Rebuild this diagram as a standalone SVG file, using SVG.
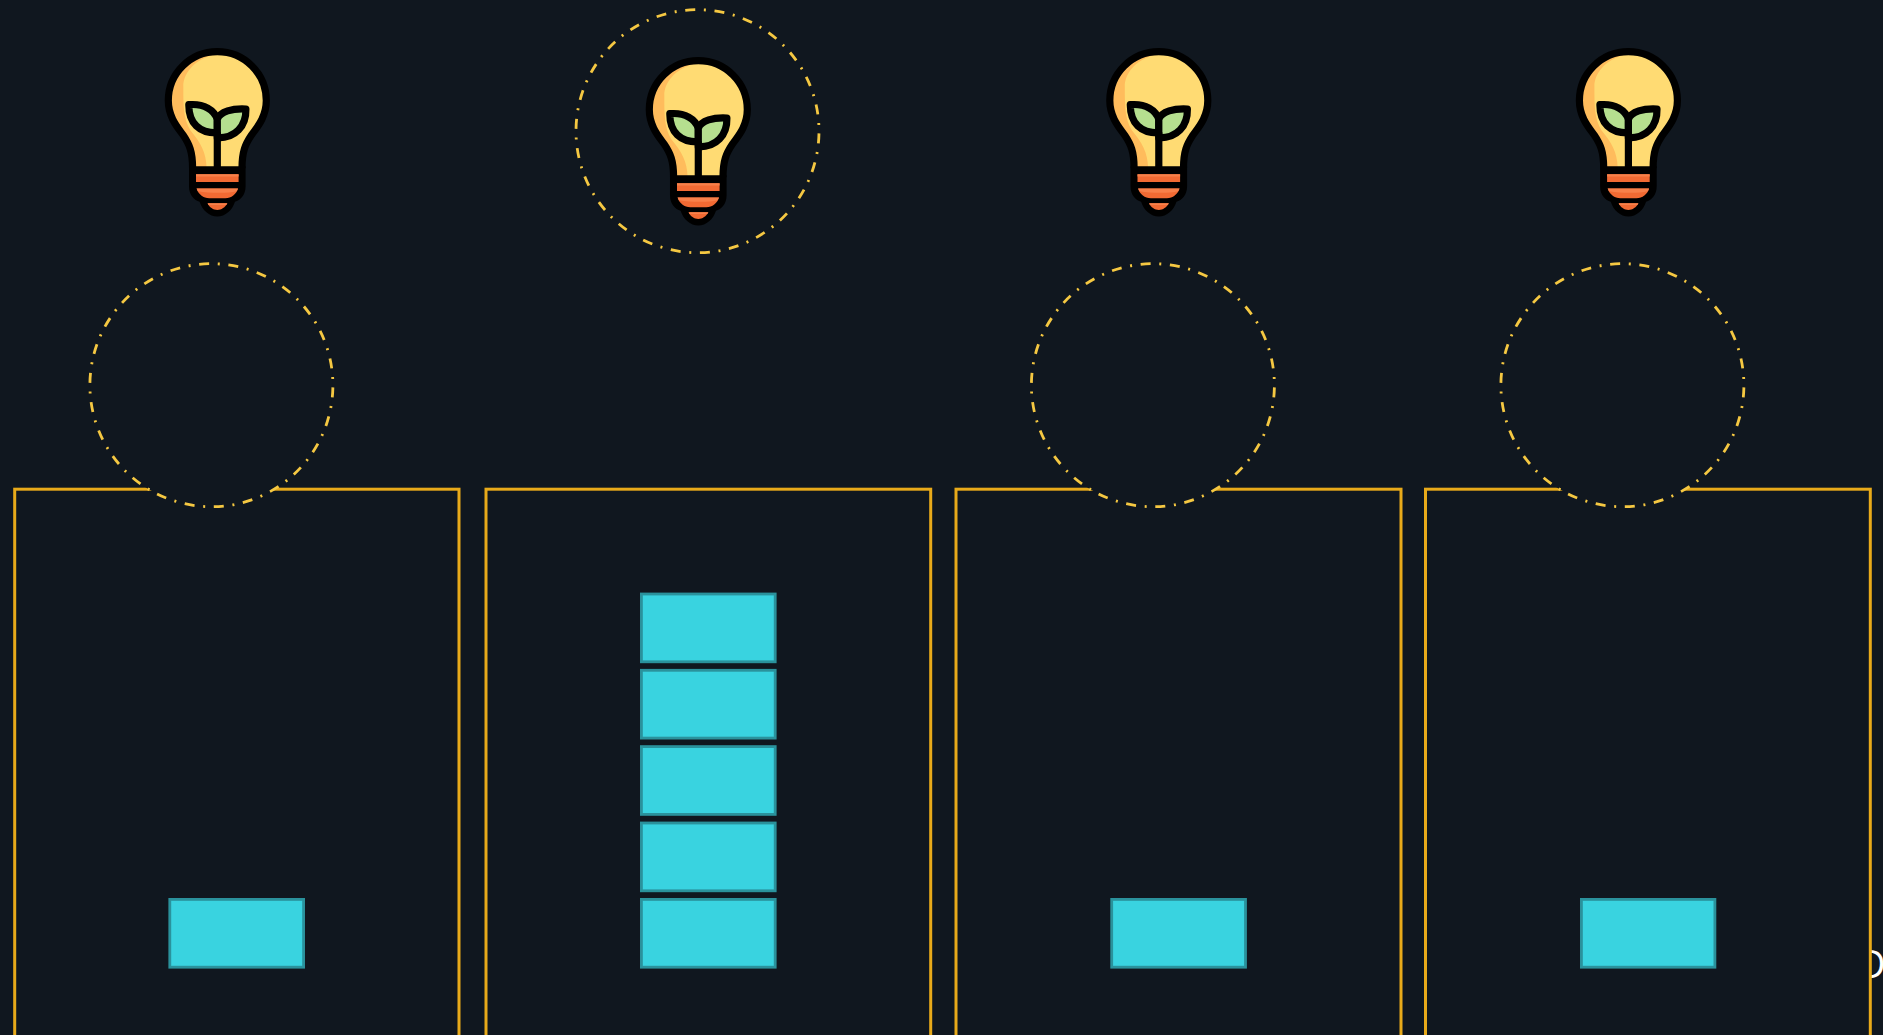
<svg xmlns="http://www.w3.org/2000/svg" width="1883" height="1035" viewBox="0 0 1883 1035">
<style>
.panel{fill:#10171f;stroke:#e8aa1a;stroke-width:3}
.halo{fill:#10171f;stroke:#f5c842;stroke-width:2.8;stroke-dasharray:10 8.68 2 8.68;stroke-dashoffset:-2.2}
.block{fill:#39d3e0;stroke:#2a929c;stroke-width:2.8}
.label{font-family:"Open Sans",sans-serif;font-size:38px;fill:#ffffff}
</style>
<defs>
<clipPath id="bulbClip"><path d="M-24.7,120C-24.7,103 -28,96 -34,87C-38,81 -49,70 -49,52.3A49,49 0 0 1 49,52.3C49,70 38,81 34,87C28,96 24.7,103 24.7,120Z"/></clipPath>
<g id="bulb">
<path d="M-24.7,120C-24.7,103 -28,96 -34,87C-38,81 -49,70 -49,52.3A49,49 0 0 1 49,52.3C49,70 38,81 34,87C28,96 24.7,103 24.7,120Z" fill="#ffbc5c"/>
<path clip-path="url(#bulbClip)" d="M-5,7C-24,12 -34,26 -34,38C-34,58 -34,70 -27,82C-17,94 -11,104 -10.7,120L40,120L70,0Z" fill="#ffdb73"/>
<path d="M-24.7,120C-24.7,103 -28,96 -34,87C-38,81 -49,70 -49,52.3A49,49 0 0 1 49,52.3C49,70 38,81 34,87C28,96 24.7,103 24.7,120" fill="none" stroke="#000" stroke-width="7.2"/>
<path d="M-28.3,118L-28.3,138C-28.3,147 -23,152 -17.7,153.5C-15,162 -8,168.3 0,168.3C8,168.3 15,162 17.7,153.5C23,152 28.3,147 28.3,138L28.3,118Z" fill="#000"/>
<path d="M-21.3,126H21.3V133.7H-21.3Z" fill="#f26a33"/>
<path d="M-21.3,126H21.3V128.2H-21.3Z" fill="#f8804a"/>
<path d="M-20.7,140.3H20.7C19,146 14,150 8,150H-8C-14,150 -19,146 -20.7,140.3Z" fill="#f26a33"/>
<path d="M-20.7,140.3H20.7L19.5,143C10,145 -6,145 -19.5,143Z" fill="#f8804a"/>
<path d="M-9.7,155H10C8,159 4,161.7 0,161.7C-4,161.7 -8,159 -9.7,155Z" fill="#f26a33"/>
<path d="M-9.7,155H10L9,156.6H-8.8Z" fill="#f8804a"/>
<path d="M-28.5,56.4C-13,55 -3,62 0,71V84.6C-18,85 -28.5,75 -28.5,56.4Z" fill="#b5df8f" stroke="#000" stroke-width="7.2" stroke-linejoin="round"/>
<path d="M28.6,60.7C15,60 3,63 0,71V89.6C18,90 29,78 28.6,60.7Z" fill="#b5df8f" stroke="#000" stroke-width="7.2" stroke-linejoin="round"/>
<path d="M0,84V120" stroke="#000" stroke-width="7.2" fill="none"/>
</g>
</defs>
<rect id="background" width="1883" height="1035" fill="#10171f"/>
<text class="label" x="1858" y="978">D</text>
<g id="panel-1"><rect class="panel" x="14.7" y="489.2" width="444.3" height="600"/></g>
<g id="panel-2"><rect class="panel" x="486" y="489.2" width="444.7" height="600"/></g>
<g id="panel-3"><rect class="panel" x="956" y="489.2" width="445" height="600"/></g>
<g id="panel-4"><rect class="panel" x="1425.5" y="489.2" width="444.8" height="600"/></g>
<g id="blocks-1"><rect class="block" x="169.8" y="899.4" width="133.8" height="67.8"/></g>
<g id="blocks-2">
<rect class="block" x="641.4" y="594" width="133.8" height="67.8"/>
<rect class="block" x="641.4" y="670.3" width="133.8" height="67.8"/>
<rect class="block" x="641.4" y="746.6" width="133.8" height="67.8"/>
<rect class="block" x="641.4" y="823" width="133.8" height="67.8"/>
<rect class="block" x="641.4" y="899.4" width="133.8" height="67.8"/>
</g>
<g id="blocks-3"><rect class="block" x="1111.7" y="899.4" width="133.8" height="67.8"/></g>
<g id="blocks-4"><rect class="block" x="1581.4" y="899.4" width="133.5" height="67.8"/></g>
<g id="halo-1"><circle class="halo" cx="211.4" cy="385.2" r="121.5"/></g>
<g id="halo-2"><circle class="halo" cx="697.5" cy="131.2" r="121.5"/></g>
<g id="halo-3"><circle class="halo" cx="1152.9" cy="385.2" r="121.5"/></g>
<g id="halo-4"><circle class="halo" cx="1622.4" cy="385.2" r="121.5"/></g>
<g id="bulb-1"><use href="#bulb" x="217.3" y="48.3"/></g>
<g id="bulb-2"><use href="#bulb" x="698.3" y="57.3"/></g>
<g id="bulb-3"><use href="#bulb" x="1158.8" y="48.3"/></g>
<g id="bulb-4"><use href="#bulb" x="1628.4" y="48.3"/></g>
</svg>
